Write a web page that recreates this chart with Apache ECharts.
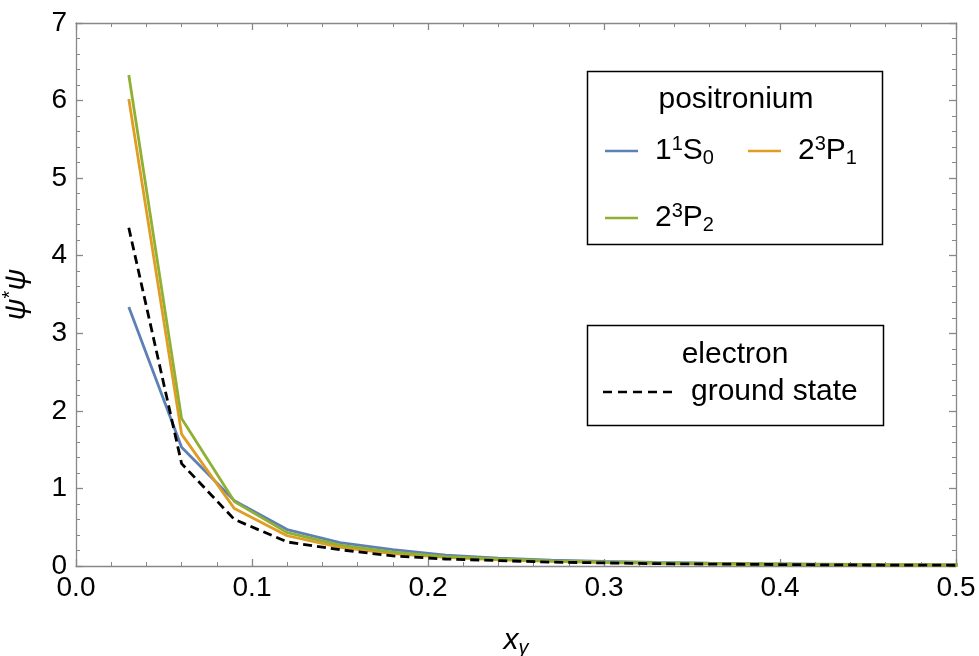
<!DOCTYPE html>
<html>
<head>
<meta charset="utf-8">
<script src="https://cdn.jsdelivr.net/npm/echarts@6/dist/echarts.min.js"></script>
<style>html,body{margin:0;padding:0;background:#fff}#c{width:979px;height:656px}</style>
</head>
<body>
<div id="c"></div>
<script>
// ---- data ----
const xVals = [0.03,0.06,0.09,0.12,0.15,0.18,0.21,0.24,0.27,0.30,0.33,0.36,0.39,0.42,0.45,0.48,0.51];
const s1S0  = [3.34,1.53,0.84,0.47,0.30,0.21,0.14,0.10,0.075,0.058,0.045,0.036,0.029,0.024,0.020,0.017,0.014];
const s3P1  = [6.02,1.70,0.74,0.39,0.24,0.16,0.11,0.08,0.060,0.045,0.035,0.028,0.022,0.018,0.015,0.012,0.010];
const s3P2  = [6.33,1.90,0.83,0.43,0.27,0.18,0.12,0.09,0.065,0.050,0.040,0.032,0.026,0.021,0.017,0.014,0.012];
const sGround = [4.36,1.32,0.60,0.31,0.21,0.13,0.09,0.07,0.050,0.040,0.030,0.025,0.020,0.016,0.013,0.011,0.009];
const xTicks = [0.0,0.1,0.2,0.3,0.4,0.5];
const yTicks = [0,1,2,3,4,5,6,7];
const names = ['1^1S_0','2^3P_1','2^3P_2','ground state'];

const pair = arr => xVals.map((x,i)=>[x,arr[i]]);
const FONT = '"Liberation Sans", Arial, sans-serif';
const AX = '#888888';
const C = ['#5E81B5','#E19C24','#8FB032','#000000'];

const rich = {
  n:{fontSize:30,fontFamily:FONT,color:'#000'},
  sup:{fontSize:20,fontFamily:FONT,color:'#000',verticalAlign:'top',padding:[0,0,14,0]},
  sub:{fontSize:20,fontFamily:FONT,color:'#000',verticalAlign:'bottom',padding:[12,0,0,0]}
};
function fmtName(nm){
  const m = nm.match(/^(\d)\^(\d)([A-Z])_(\d)$/);
  if(!m) return '{n|'+nm+'}';
  return '{n|'+m[1]+'}{sup|'+m[2]+'}{n|'+m[3]+'}{sub|'+m[4]+'}';
}

function baseAxisX(pos, showLabel, extra){
  return Object.assign({
    type:'value', position:pos, min:0, max:0.5, interval:0.1,
    axisLine:{show:true,onZero:false,lineStyle:{color:AX,width:1.3}},
    axisTick:{show:true,inside:true,length:7,lineStyle:{color:AX,width:1.3}},
    minorTick:{show:true,splitNumber:5,length:4,lineStyle:{color:AX,width:1}},
    splitLine:{show:false},
    axisLabel:{show:showLabel,color:'#000',fontSize:28,fontFamily:FONT,margin:8,
      formatter:v=>{const t=xTicks.find(k=>Math.abs(k-v)<1e-9);return t===undefined?'':t.toFixed(1);}}
  }, extra||{});
}
function baseAxisY(pos, showLabel, extra){
  return Object.assign({
    type:'value', position:pos, min:0, max:7, interval:1,
    axisLine:{show:true,onZero:false,lineStyle:{color:AX,width:1.3}},
    axisTick:{show:true,inside:true,length:7,lineStyle:{color:AX,width:1.3}},
    minorTick:{show:true,splitNumber:5,length:4,lineStyle:{color:AX,width:1}},
    splitLine:{show:false},
    axisLabel:{show:showLabel,color:'#000',fontSize:28,fontFamily:FONT,margin:9,
      formatter:v=>{const t=yTicks.find(k=>Math.abs(k-v)<1e-9);return t===undefined?'':String(t);}}
  }, extra||{});
}

const SOLID_ICON = 'path://M0,0L33,0L33,2.6L0,2.6Z';
const DASH_ICON = 'path://M0,0L9,0L9,2.6L0,2.6Z M15,0L24,0L24,2.6L15,2.6Z M30,0L39,0L39,2.6L30,2.6Z M45,0L54,0L54,2.6L45,2.6Z M60,0L69,0L69,2.6L60,2.6Z';

function legendItem(name, left, top){
  return {
    data:[{name:name, icon:SOLID_ICON}], left:left, top:top, padding:0, itemWidth:33, itemHeight:2.6, itemGap:0,
    selectedMode:false, formatter:fmtName, textStyle:{rich:rich, padding:[0,0,0,12]}
  };
}

const option = {
  animation:false,
  backgroundColor:'#fff',
  grid:{left:76,right:23,top:23,bottom:90,containLabel:false,outerBoundsMode:'none'},
  xAxis:[
    baseAxisX('bottom', true, {
      name:'{i|x}{g|γ}', nameLocation:'middle', nameGap:58,
      nameTextStyle:{rich:{
        i:{fontSize:30,fontStyle:'italic',fontFamily:FONT,color:'#000'},
        g:{fontSize:20,fontStyle:'italic',fontFamily:FONT,color:'#000',verticalAlign:'bottom',padding:[14,0,0,0]}
      }}
    }),
    baseAxisX('top', false)
  ],
  yAxis:[
    baseAxisY('left', true, {
      name:'{i|ψ}{s|*}{i|ψ}', nameLocation:'middle', nameGap:42, nameRotate:90,
      nameTextStyle:{rich:{
        i:{fontSize:30,fontStyle:'italic',fontFamily:FONT,color:'#000'},
        s:{fontSize:20,fontFamily:FONT,color:'#000',verticalAlign:'top',padding:[0,0,14,0]}
      }}
    }),
    baseAxisY('right', false)
  ],
  legend:[
    legendItem(names[0], 605, 134),
    legendItem(names[1], 748, 134),
    legendItem(names[2], 605, 201),
    {
      data:[{name:names[3], icon:DASH_ICON}], left:603, top:377, padding:0, itemWidth:69, itemHeight:2.6, itemGap:0,
      selectedMode:false, textStyle:{fontSize:30,fontFamily:FONT,color:'#000',padding:[0,0,0,14]}
    }
  ],
  graphic:[
    {type:'rect',shape:{x:587.5,y:71.5,width:295,height:173},style:{fill:'none',stroke:'#000',lineWidth:1.5},silent:true},
    {type:'text',x:736,y:100,style:{text:'positronium',font:'30px '+FONT,fill:'#000',align:'center',verticalAlign:'middle'}},
    {type:'rect',shape:{x:587.5,y:325.5,width:296,height:100},style:{fill:'none',stroke:'#000',lineWidth:1.5},silent:true},
    {type:'text',x:735,y:355,style:{text:'electron',font:'30px '+FONT,fill:'#000',align:'center',verticalAlign:'middle'}}
  ],
  series:[
    {name:names[0],type:'line',data:pair(s1S0),showSymbol:false,symbol:'none',lineStyle:{color:C[0],width:2.8},itemStyle:{color:C[0]}},
    {name:names[1],type:'line',data:pair(s3P1),showSymbol:false,symbol:'none',lineStyle:{color:C[1],width:2.8},itemStyle:{color:C[1]}},
    {name:names[2],type:'line',data:pair(s3P2),showSymbol:false,symbol:'none',lineStyle:{color:C[2],width:2.8},itemStyle:{color:C[2]}},
    {name:names[3],type:'line',data:pair(sGround),showSymbol:false,symbol:'none',lineStyle:{color:C[3],width:2.8,type:[9,5]},itemStyle:{color:C[3]}}
  ]
};
const chart = echarts.init(document.getElementById('c'), null, {renderer:'canvas'});
chart.setOption(option);
</script>
</body>
</html>
